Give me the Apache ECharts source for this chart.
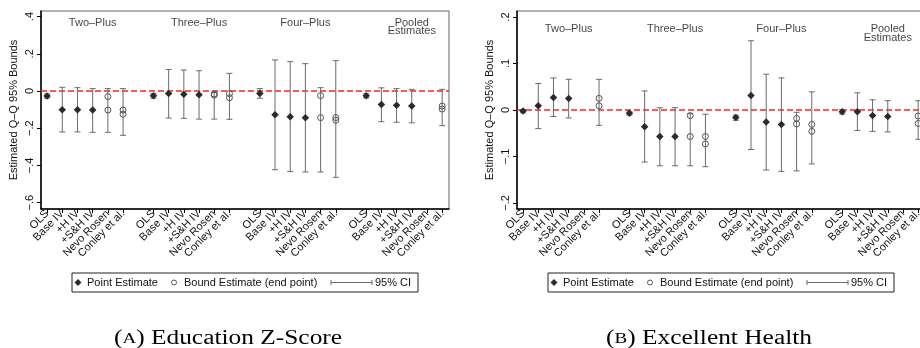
<!DOCTYPE html>
<html>
<head>
<meta charset="utf-8">
<script src="https://cdn.jsdelivr.net/npm/echarts@6/dist/echarts.min.js"></script>
<style>
  html, body { margin: 0; padding: 0; background: #fff; }
  #chart { width: 920px; height: 348px; }
</style>
</head>
<body>
<div id="chart"></div>
<script>
// Sample groups (rows) and estimators (columns)
const groups = ['Two\u2013Plus', 'Three\u2013Plus', 'Four\u2013Plus', 'Pooled\nEstimates'];
const methods = ['OLS', 'Base IV', '+H IV', '+S&H IV', 'Nevo Rosen', 'Conley et al.'];

// (A) Education Z-Score
const eduPoint = [
  [-0.027, -0.100, -0.100, -0.102, null, null],
  [-0.025, -0.014, -0.018, -0.020, null, null],
  [-0.013, -0.127, -0.138, -0.143, null, null],
  [-0.026, -0.073, -0.077, -0.081, null, null]
];
const eduBoundHigh = [
  [null, null, null, null, -0.030, -0.102],
  [null, null, null, null, -0.016, -0.014],
  [null, null, null, null, -0.025, -0.143],
  [null, null, null, null, null, -0.081]
];
const eduBoundLow = [
  [null, null, null, null, -0.102, -0.125],
  [null, null, null, null, -0.022, -0.036],
  [null, null, null, null, -0.143, -0.157],
  [null, null, null, null, null, -0.097]
];
const eduCiHigh = [
  [-0.016, 0.020, 0.018, 0.013, 0.013, 0.013],
  [-0.014, 0.116, 0.113, 0.109, -0.008, 0.095],
  [0.013, 0.167, 0.158, 0.147, 0.018, 0.163],
  [-0.015, 0.017, 0.013, 0.009, null, 0.009]
];
const eduCiLow = [
  [-0.038, -0.220, -0.220, -0.222, -0.222, -0.238],
  [-0.039, -0.145, -0.147, -0.151, -0.151, -0.152],
  [-0.039, -0.423, -0.432, -0.435, -0.435, -0.464],
  [-0.037, -0.165, -0.168, -0.171, null, -0.186]
];
const eduTicks = [-0.6, -0.4, -0.2, 0, 0.2, 0.4];

// (B) Excellent Health
const healthPoint = [
  [-0.002, 0.009, 0.027, 0.025, null, null],
  [-0.007, -0.036, -0.057, -0.057, null, null],
  [-0.016, 0.031, -0.026, -0.031, null, null],
  [-0.004, -0.004, -0.012, -0.014, null, null]
];
const healthBoundHigh = [
  [null, null, null, null, null, 0.025],
  [null, null, null, null, -0.012, -0.057],
  [null, null, null, null, -0.018, -0.031],
  [null, null, null, null, null, -0.013]
];
const healthBoundLow = [
  [null, null, null, null, null, 0.009],
  [null, null, null, null, -0.057, -0.073],
  [null, null, null, null, -0.030, -0.046],
  [null, null, null, null, null, -0.029]
];
const healthCiHigh = [
  [0.001, 0.057, 0.069, 0.066, null, 0.066],
  [-0.004, 0.041, 0.005, 0.005, -0.008, -0.009],
  [-0.011, 0.149, 0.077, 0.069, -0.005, 0.039],
  [0.001, 0.037, 0.022, 0.020, null, 0.020]
];
const healthCiLow = [
  [-0.006, -0.040, -0.014, -0.017, null, -0.033],
  [-0.011, -0.112, -0.120, -0.120, -0.120, -0.122],
  [-0.022, -0.085, -0.129, -0.132, -0.131, -0.116],
  [-0.009, -0.044, -0.046, -0.047, null, -0.063]
];
const healthTicks = [-0.2, -0.1, 0, 0.1, 0.2];

const captions = ['Education Z-Score', 'Excellent Health'];
const captionLetters = ['A', 'B'];

// ---- layout & style ----
const FONT = '"Liberation Sans", Arial, Helvetica, sans-serif';
const SERIF = '"Liberation Serif", "Times New Roman", serif';
const CI_COLOR = '#6a6a6a';
const GROUP_STRIDE = methods.length + 1;   // one empty slot between groups
const X_MIN = -0.4, X_MAX = 26.45;

const slotOf = (g, k) => g * GROUP_STRIDE + k;
const slots = [];
const slotName = {};
groups.forEach((_, g) => methods.forEach((m, k) => { slots.push(slotOf(g, k)); slotName[slotOf(g, k)] = m; }));
// blank labels at both axis ends keep the min/max overlap pruning away from the real labels
const labelSlots = [X_MIN].concat(slots, [X_MAX]);

function tickFmt(v) {
  if (Math.abs(v) < 1e-9) return '0';
  const s = Math.abs(v).toFixed(1).replace(/^0/, '');
  return (v < 0 ? '\u2212' : '') + s;
}

const panels = [
  { left: 41, yMin: -0.634, yMax: 0.43, ticks: eduTicks,
    point: eduPoint, bHi: eduBoundHigh, bLo: eduBoundLow, ciHi: eduCiHigh, ciLo: eduCiLow,
    groupLabelGap: 7.7, groupLineHeight: 8 },
  { left: 517, yMin: -0.213, yMax: 0.213, ticks: healthTicks,
    point: healthPoint, bHi: healthBoundHigh, bLo: healthBoundLow, ciHi: healthCiHigh, ciLo: healthCiLow,
    groupLabelGap: 13.8, groupLineHeight: 9 }
];

const grid = [], xAxis = [], yAxis = [], series = [], graphic = [];

panels.forEach((p, i) => {
  grid.push({ left: p.left, top: 11, width: 408, height: 198, show: true,
              outerBoundsMode: 'none', containLabel: false,
              borderColor: '#666', borderWidth: 1, backgroundColor: 'transparent' });

  xAxis.push({
    gridIndex: i, type: 'value', min: X_MIN, max: X_MAX,
    axisLine: { show: true, onZero: false, lineStyle: { color: '#000', width: 1.5 } },
    axisTick: { show: true, length: 4, customValues: slots, lineStyle: { color: '#000', width: 1 } },
    axisLabel: { customValues: labelSlots, rotate: 45, margin: 3, fontSize: 11, fontFamily: FONT,
                 color: '#111', hideOverlap: false,
                 formatter: v => (Math.abs(v - Math.round(v)) < 1e-6 ? slotName[Math.round(v)] : '') || '' },
    splitLine: { show: false }
  });

  yAxis.push({
    gridIndex: i, type: 'value', min: p.yMin, max: p.yMax,
    axisLine: { show: true, onZero: false, lineStyle: { color: '#000', width: 1.5 } },
    axisTick: { show: true, length: 4, customValues: p.ticks, lineStyle: { color: '#000', width: 1 } },
    axisLabel: { customValues: p.ticks, rotate: 90, margin: 6, fontSize: 11, fontFamily: FONT,
                 color: '#111', showMinLabel: true, showMaxLabel: true, formatter: tickFmt },
    splitLine: { show: false },
    name: 'Estimated Q\u2013Q 95% Bounds', nameLocation: 'middle', nameRotate: 90, nameGap: 22,
    nameTextStyle: { fontSize: 11, fontFamily: FONT, color: '#111' }
  });

  const ciData = [], ptData = [], bdData = [];
  groups.forEach((_, g) => methods.forEach((_, k) => {
    const x = slotOf(g, k);
    if (p.ciLo[g][k] != null && p.ciHi[g][k] != null) ciData.push([x, p.ciLo[g][k], p.ciHi[g][k]]);
    if (p.point[g][k] != null) ptData.push([x, p.point[g][k]]);
    if (p.bHi[g][k] != null) bdData.push([x, p.bHi[g][k]]);
    if (p.bLo[g][k] != null) bdData.push([x, p.bLo[g][k]]);
  }));

  // 95% confidence intervals with end caps
  series.push({
    type: 'custom', xAxisIndex: i, yAxisIndex: i, data: ciData,
    encode: { x: 0, y: [1, 2] }, silent: true, z: 2,
    renderItem(params, api) {
      const x = api.value(0);
      const a = api.coord([x, api.value(2)]);
      const b = api.coord([x, api.value(1)]);
      const cap = 3;
      const st = { stroke: CI_COLOR, lineWidth: 1 };
      return { type: 'group', children: [
        { type: 'line', shape: { x1: a[0], y1: a[1], x2: b[0], y2: b[1] }, style: st },
        { type: 'line', shape: { x1: a[0] - cap, y1: a[1], x2: a[0] + cap, y2: a[1] }, style: st },
        { type: 'line', shape: { x1: b[0] - cap, y1: b[1], x2: b[0] + cap, y2: b[1] }, style: st }
      ]};
    },
    markLine: {
      silent: true, symbol: 'none', label: { show: false }, z: 1,
      lineStyle: { color: '#ff2222', type: [6, 3], width: 1.5 },
      data: [{ yAxis: 0 }]
    }
  });

  // bound end points
  series.push({
    type: 'scatter', xAxisIndex: i, yAxisIndex: i, data: bdData, silent: true, z: 4,
    symbol: 'circle', symbolSize: 6,
    itemStyle: { color: 'rgba(255,255,255,0)', borderColor: '#555', borderWidth: 1, opacity: 1 }
  });

  // point estimates
  series.push({
    type: 'scatter', xAxisIndex: i, yAxisIndex: i, data: ptData, silent: true, z: 5,
    symbol: 'diamond', symbolSize: 7.5, itemStyle: { color: '#2b2b2b', opacity: 1 }
  });

  // group headings at the top of the plot region
  series.push({
    type: 'scatter', xAxisIndex: i, yAxisIndex: i, silent: true, z: 6,
    symbolSize: 0,
    data: groups.map((name, g) => ({ value: [slotOf(g, 3), p.yMax], name })),
    label: { show: true, position: 'bottom', distance: p.groupLabelGap, formatter: '{b}',
             fontSize: 11, fontFamily: FONT, color: '#111', lineHeight: p.groupLineHeight, align: 'center' }
  });

  // legend box
  const ox = p.left - 41;
  const cy = 282.5;
  const txt = (x, text) => ({ type: 'text', x: x + ox, y: cy,
    style: { text, font: '11px ' + FONT, fill: '#111', verticalAlign: 'middle', textVerticalAlign: 'middle' } });
  graphic.push({
    type: 'group', silent: true, children: [
      { type: 'rect', shape: { x: 72 + ox, y: 273, width: 346, height: 19 },
        style: { fill: '#fff', stroke: '#222', lineWidth: 1 } },
      { type: 'polygon', shape: { points: [[78 + ox, cy - 3.5], [81.5 + ox, cy], [78 + ox, cy + 3.5], [74.5 + ox, cy]] },
        style: { fill: '#2b2b2b' } },
      txt(87, 'Point Estimate'),
      { type: 'circle', shape: { cx: 174 + ox, cy: cy, r: 2.5 }, style: { fill: 'none', stroke: '#555', lineWidth: 1 } },
      txt(184, 'Bound Estimate (end point)'),
      { type: 'line', shape: { x1: 331 + ox, y1: cy, x2: 372 + ox, y2: cy }, style: { stroke: CI_COLOR, lineWidth: 1 } },
      { type: 'line', shape: { x1: 331 + ox, y1: cy - 2.5, x2: 331 + ox, y2: cy + 2.5 }, style: { stroke: CI_COLOR, lineWidth: 1 } },
      { type: 'line', shape: { x1: 372 + ox, y1: cy - 2.5, x2: 372 + ox, y2: cy + 2.5 }, style: { stroke: CI_COLOR, lineWidth: 1 } },
      txt(375, '95% CI')
    ]
  });

  // panel caption, set a little wider than the plain serif face
  graphic.push({
    type: 'text', silent: true, x: [228, 709][i], y: 339, scaleX: 1.27, scaleY: 1,
    style: {
      text: '({sc|' + captionLetters[i] + '}) ' + captions[i],
      font: '20px ' + SERIF, fill: '#000', align: 'center', verticalAlign: 'middle',
      textAlign: 'center', textVerticalAlign: 'middle',
      rich: { sc: { fontSize: 15, fontFamily: SERIF } }
    }
  });
});

const chart = echarts.init(document.getElementById('chart'), null, { renderer: 'canvas' });
chart.setOption({
  animation: false,
  backgroundColor: '#fff',
  textStyle: { fontFamily: FONT },
  grid, xAxis, yAxis, series, graphic
});
</script>
</body>
</html>
